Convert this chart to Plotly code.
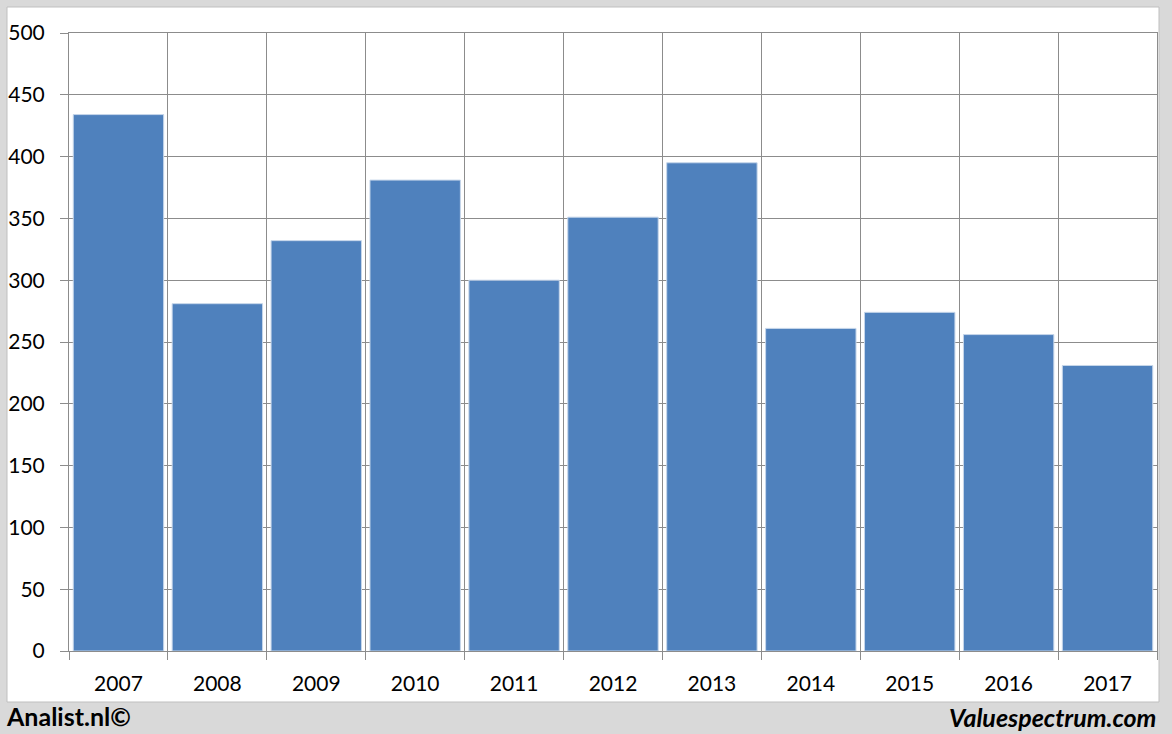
import plotly.graph_objects as go

years = ["2007", "2008", "2009", "2010", "2011", "2012", "2013", "2014", "2015", "2016", "2017"]
values = [434, 281, 332, 381, 300, 351, 395, 261, 274, 256, 231]
y_ticks = [0, 50, 100, 150, 200, 250, 300, 350, 400, 450, 500]

positions = list(range(len(years)))

L, R, T, B = 69, 15, 33, 83
W, H = 1172, 734
pw = W - L - R
ph = H - T - B

def px_x(px):
    return (px - L) / pw

def px_y(py):
    return (H - B - py) / ph

grid = "#8c8c8c"

fig = go.Figure()
fig.add_trace(go.Bar(
    x=positions, y=values, width=0.914,
    marker=dict(color="#4f81bd", line=dict(color="#c6d6ea", width=1)),
    hoverinfo="skip",
))

fig.update_layout(
    width=W, height=H,
    margin=dict(l=L, r=R, t=T, b=B),
    paper_bgcolor="#d9d9d9",
    plot_bgcolor="white",
    showlegend=False,
    font=dict(family="Lato, 'Open Sans', sans-serif", size=21, color="#000000"),
    shapes=[dict(type="rect", xref="paper", yref="paper", layer="below",
                 x0=px_x(7), x1=px_x(1159), y0=px_y(702), y1=px_y(7),
                 fillcolor="white", line=dict(color="#bfbfbf", width=1))],
    annotations=[
        dict(text="<b>Analist.nl©</b>", xref="paper", yref="paper",
             x=px_x(4), y=px_y(716), xanchor="left", yanchor="middle",
             showarrow=False, font=dict(size=25, color="#000000")),
        dict(text="<b><i>Valuespectrum.com</i></b>", xref="paper", yref="paper",
             x=px_x(1158), y=px_y(717), xanchor="right", yanchor="middle",
             showarrow=False, font=dict(size=25, color="#000000")),
    ],
)

fig.update_xaxes(
    range=[-0.5, len(years) - 0.5],
    tickmode="array", tickvals=positions, ticktext=years,
    ticks="", showgrid=False, automargin=False,
    showline=True, linecolor=grid, linewidth=1, mirror=True,
    ticklabelstandoff=14,
    minor=dict(tickmode="linear", tick0=-0.5, dtick=1, ticks="outside",
               ticklen=8, tickcolor=grid, showgrid=True, gridcolor=grid, gridwidth=1),
    fixedrange=True,
)
fig.update_yaxes(
    range=[0, 500], tickmode="array", tickvals=y_ticks,
    ticks="outside", ticklen=8, tickcolor=grid, automargin=False,
    showgrid=True, gridcolor=grid, gridwidth=1,
    showline=True, linecolor=grid, linewidth=1, mirror=True,
    zeroline=False, ticklabelstandoff=11,
    fixedrange=True,
)

fig.write_html("out.html", config={"displayModeBar": False},
               post_script="document.body.style.margin='0';document.body.style.padding='0';")
